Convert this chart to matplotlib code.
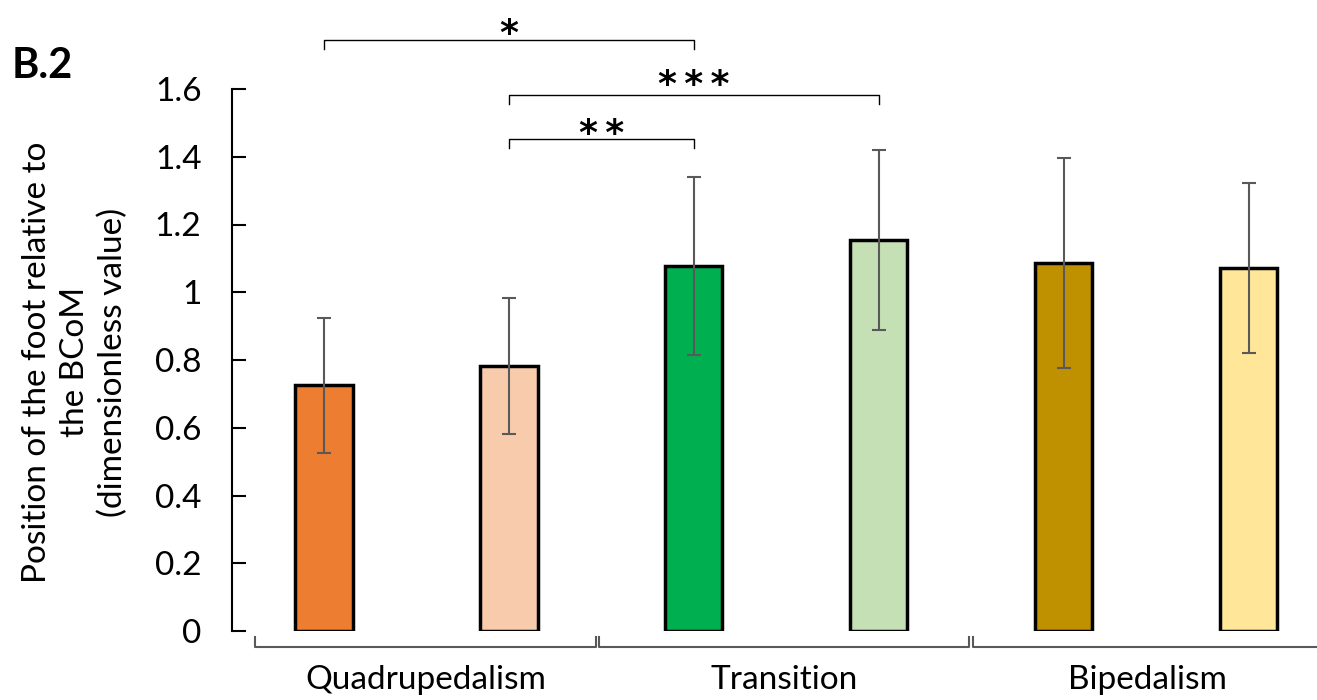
import matplotlib.pyplot as plt
import numpy as np

plt.rcParams['font.family'] = ['Lato', 'DejaVu Sans']

# foot position relative to the BCoM, mean and SD per condition
means = [0.725, 0.782, 1.077, 1.154, 1.086, 1.072]
sds = [0.200, 0.200, 0.263, 0.265, 0.310, 0.250]
colors = ['#ED7D31', '#F8CBAD', '#00B050', '#C5E0B4', '#BF9000', '#FFE699']

groups = ['Quadrupedalism', 'Transition', 'Bipedalism']
group_spans = [(-0.37, 1.47), (1.49, 3.49), (3.51, 5.40)]

# significance brackets: (left bar, right bar, height, stars, star centre)
sig = [(0, 2, 1.745, '*', 1.798), (1, 3, 1.582, '***', 1.648), (1, 2, 1.452, '**', 1.503)]

fig = plt.figure(figsize=(13.17, 7), dpi=100)
ax = fig.add_axes([232 / 1317, 69 / 700, 1 - 232 / 1317, 542 / 700])

x = np.arange(len(means))
ax.bar(x, means, width=0.31, color=colors, edgecolor='black', linewidth=2.5, zorder=2)
ax.errorbar(x, means, yerr=sds, fmt='none', ecolor='#595959', elinewidth=1.5,
            capsize=5, capthick=1.5, zorder=3)

ax.set_xlim(-0.497, 5.37)
ax.set_ylim(0, 1.6)
ax.set_yticks([0, 0.2, 0.4, 0.6, 0.8, 1, 1.2, 1.4, 1.6])
ax.set_yticklabels(['0', '0.2', '0.4', '0.6', '0.8', '1', '1.2', '1.4', '1.6'], fontsize=24)
ax.tick_params(axis='y', direction='in', length=10, width=1.5, pad=22)
ax.set_xticks([])
for s in ['top', 'right', 'bottom']:
    ax.spines[s].set_visible(False)
ax.spines['left'].set_linewidth(1.5)

# group brackets under the axis
for (a, b), name in zip(group_spans, groups):
    ax.plot([a, a, b, b], [-0.018, -0.047, -0.047, -0.018], color='#595959',
            lw=1.5, clip_on=False)
    ax.text((a + b) / 2, -0.145, name, ha='center', va='center', fontsize=24,
            clip_on=False)

# significance markers
for i, j, h, stars, ys in sig:
    ax.plot([x[i], x[i], x[j], x[j]], [h - 0.027, h, h, h - 0.027], color='black',
            lw=1, clip_on=False)
    ax.text((x[i] + x[j]) / 2, ys - 0.065, '\u2009'.join(stars), ha='center',
            va='baseline', fontsize=26, fontweight='bold', family=['DejaVu Sans'],
            clip_on=False)

fig.text(75 / 1317, 1 - 362 / 700,
         'Position of the foot relative to\nthe BCoM\n(dimensionless value)',
         rotation=90, ha='center', va='center', fontsize=24, multialignment='center',
         linespacing=1.32)
fig.text(12 / 1317, 1 - 66 / 700, 'B.2', fontsize=30, fontweight='bold',
         ha='left', va='center')

fig.savefig('out.png', dpi=100)
